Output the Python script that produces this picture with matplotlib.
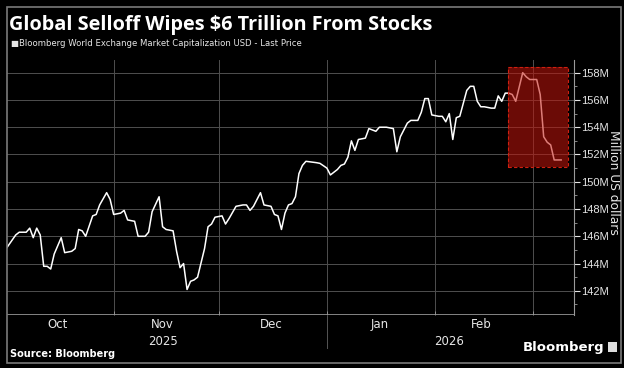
import pandas as pd
import matplotlib.pyplot as plt
import matplotlib.dates as mdates
from matplotlib.patches import Rectangle
from matplotlib.ticker import FuncFormatter, MultipleLocator

TITLE = "Global Selloff Wipes $6 Trillion From Stocks"
SERIES_NAME = "Bloomberg World Exchange Market Capitalization USD - Last Price"
Y_LABEL = "Million US dollars"
SOURCE = "Source: Bloomberg"

dates = [
    "2025-10-01", "2025-10-04", "2025-10-05", "2025-10-07", "2025-10-08", "2025-10-09",
    "2025-10-10", "2025-10-11", "2025-10-12", "2025-10-13", "2025-10-14", "2025-10-15",
    "2025-10-17", "2025-10-18", "2025-10-20", "2025-10-21", "2025-10-22", "2025-10-23",
    "2025-10-24", "2025-10-26", "2025-10-27", "2025-10-28", "2025-10-30", "2025-10-31",
    "2025-11-01", "2025-11-03", "2025-11-04", "2025-11-05", "2025-11-07", "2025-11-08",
    "2025-11-10", "2025-11-11", "2025-11-12", "2025-11-14", "2025-11-15", "2025-11-16",
    "2025-11-18", "2025-11-19", "2025-11-20", "2025-11-21", "2025-11-22", "2025-11-23",
    "2025-11-24", "2025-11-25", "2025-11-27", "2025-11-28", "2025-11-29", "2025-11-30",
    "2025-12-02", "2025-12-03", "2025-12-04", "2025-12-06", "2025-12-08", "2025-12-09",
    "2025-12-10", "2025-12-11", "2025-12-13", "2025-12-14", "2025-12-16", "2025-12-17",
    "2025-12-18", "2025-12-19", "2025-12-20", "2025-12-21", "2025-12-22", "2025-12-23",
    "2025-12-24", "2025-12-25", "2025-12-26", "2025-12-29", "2025-12-30",
    "2026-01-01", "2026-01-02", "2026-01-04", "2026-01-05", "2026-01-06", "2026-01-07",
    "2026-01-08", "2026-01-09", "2026-01-10", "2026-01-12", "2026-01-13", "2026-01-15",
    "2026-01-16", "2026-01-18", "2026-01-20", "2026-01-21", "2026-01-22", "2026-01-24",
    "2026-01-25", "2026-01-27", "2026-01-28", "2026-01-29", "2026-01-30", "2026-01-31",
    "2026-02-02", "2026-02-03", "2026-02-04", "2026-02-05", "2026-02-06", "2026-02-07",
    "2026-02-08", "2026-02-10", "2026-02-11", "2026-02-12", "2026-02-13", "2026-02-14",
    "2026-02-15", "2026-02-17", "2026-02-18", "2026-02-19", "2026-02-20", "2026-02-21",
    "2026-02-22", "2026-02-23", "2026-02-24", "2026-02-26", "2026-02-27", "2026-02-28",
    "2026-03-02", "2026-03-03", "2026-03-04", "2026-03-05", "2026-03-06", "2026-03-07",
    "2026-03-08", "2026-03-09",
]

values = [
    145.0, 146.1, 146.3, 146.3, 146.6, 145.9,
    146.6, 146.1, 143.8, 143.8, 143.6, 144.7,
    145.9, 144.8, 144.9, 145.1, 146.5, 146.4,
    146.0, 147.5, 147.6, 148.3, 149.2, 148.7,
    147.6, 147.7, 147.9, 147.2, 147.1, 146.0,
    146.0, 146.3, 147.8, 148.9, 146.7, 146.5,
    146.4, 144.9, 143.7, 144.0, 142.1, 142.7,
    142.8, 143.0, 145.1, 146.7, 146.9, 147.4,
    147.5, 146.9, 147.3, 148.2, 148.3, 148.3,
    147.9, 148.2, 149.2, 148.3, 148.2, 147.6,
    147.5, 146.5, 147.7, 148.3, 148.4, 148.9,
    150.6, 151.2, 151.5, 151.4, 151.35,
    151.0, 150.5, 150.9, 151.2, 151.3, 151.8,
    153.0, 152.3, 153.1, 153.2, 153.9, 153.7,
    154.0, 154.0, 153.9, 152.2, 153.3, 154.3,
    154.5, 154.5, 155.1, 156.1, 156.1, 154.9,
    154.8, 154.8, 154.4, 155.0, 153.1, 154.7,
    154.8, 156.7, 157.0, 157.0, 155.9, 155.5,
    155.5, 155.4, 155.4, 156.3, 155.9, 156.5,
    156.5, 156.4, 155.9, 158.0, 157.7, 157.5,
    157.5, 156.4, 153.3, 152.9, 152.7, 151.6,
    151.6, 151.6,
]

# highlighted selloff window
box_start, box_end = "2026-02-21 20:00", "2026-03-11"
box_low, box_high = 151.08, 158.42

month_labels = ["Oct", "Nov", "Dec", "Jan", "Feb"]
month_mids = ["2025-10-16", "2025-11-15", "2025-12-16", "2026-01-16", "2026-02-14"]
years = ["2025", "2026"]
year_mids = ["2025-11-15", "2026-02-05"]


def main():
    bg = "black"
    fg = "#e6e6e6"
    grid = "#4f4f4f"

    x = pd.to_datetime(dates)
    fig = plt.figure(figsize=(6.24, 3.68), dpi=100, facecolor=bg)
    ax = fig.add_axes([7 / 624, 1 - 314.7 / 368, 566.7 / 624, 254.7 / 368])
    ax.set_facecolor(bg)

    ax.plot(x, values, color="white", lw=1.1, zorder=3)

    x0, x1 = pd.Timestamp(box_start), pd.Timestamp(box_end)
    ax.add_patch(Rectangle(
        (mdates.date2num(x0), box_low),
        mdates.date2num(x1) - mdates.date2num(x0), box_high - box_low,
        facecolor="#c4150c", alpha=0.55, edgecolor="none", zorder=4))
    ax.add_patch(Rectangle(
        (mdates.date2num(x0), box_low),
        mdates.date2num(x1) - mdates.date2num(x0), box_high - box_low,
        facecolor="none", edgecolor="#d02010", lw=0.8, ls=(0, (3, 2)), zorder=5))

    ax.set_xlim(pd.Timestamp("2025-10-01 12:00"), pd.Timestamp("2026-03-12 14:00"))
    ax.set_ylim(140.25, 158.93)

    # axes styling
    for side in ["top", "left", "bottom"]:
        ax.spines[side].set_visible(False)
    ax.spines["right"].set_color("#9a9a9a")
    ax.axhline(140.25, color="#9a9a9a", lw=1.2, zorder=2)

    ax.yaxis.tick_right()
    ax.yaxis.set_major_locator(MultipleLocator(2))
    ax.yaxis.set_minor_locator(MultipleLocator(1))
    ax.yaxis.set_major_formatter(FuncFormatter(lambda v, p: f"{v:.0f}M"))
    ax.tick_params(axis="y", which="major", colors=fg, labelsize=8,
                   length=4, width=0.8, pad=1)
    ax.tick_params(axis="y", which="minor", color="#9a9a9a", length=2.5, width=0.6)
    for lab in ax.get_yticklabels():
        lab.set_family("Liberation Sans")

    ax.xaxis.set_major_locator(mdates.MonthLocator())
    ax.xaxis.set_major_formatter(plt.NullFormatter())
    ax.tick_params(axis="x", which="major", color="#9a9a9a", length=3,
                   direction="in", width=0.6)
    ax.grid(True, which="major", color=grid, lw=0.7, zorder=1)

    for lab, d in zip(month_labels, month_mids):
        ax.text(pd.Timestamp(d), -0.012, lab, transform=ax.get_xaxis_transform(),
                ha="center", va="top", color=fg, fontsize=8.5)
    for lab, d in zip(years, year_mids):
        ax.text(pd.Timestamp(d), -0.078, lab, transform=ax.get_xaxis_transform(),
                ha="center", va="top", color=fg, fontsize=8.5)
    ax.plot([pd.Timestamp("2026-01-01")] * 2, [-0.005, -0.13], color="#555555",
            lw=0.7, transform=ax.get_xaxis_transform(), clip_on=False)

    # outer frame and texts
    fig.patches.append(Rectangle((7 / 624, 5 / 368), 614 / 624, 356 / 368,
                                 transform=fig.transFigure, fill=False,
                                 edgecolor="#7a7a7a", lw=1.2))
    fig.text(613 / 624, 1 - 182 / 368, Y_LABEL, color=fg, fontsize=8.8,
             rotation=270, ha="center", va="center")
    fig.text(9 / 624, 1 - 25 / 368, TITLE, color="white", fontsize=14.3,
             fontweight="bold", ha="left", va="center", family="Open Sans")
    fig.text(11 / 624, 1 - 43 / 368, "\u25a0" + SERIES_NAME, color=fg, fontsize=6.1,
             ha="left", va="center")
    fig.text(10 / 624, 1 - 354 / 368, SOURCE, color="white", fontsize=7,
             fontweight="bold", ha="left", va="center")
    fig.text(604 / 624, 1 - 347 / 368, "Bloomberg", color="white", fontsize=9.5,
             fontweight="bold", ha="right", va="center")
    fig.patches.append(Rectangle((608 / 624, 1 - 352 / 368), 9 / 624, 10 / 368,
                                 transform=fig.transFigure, facecolor="#dddddd",
                                 edgecolor="none"))

    fig.savefig("out.png", dpi=100, facecolor=bg)


if __name__ == "__main__":
    main()
